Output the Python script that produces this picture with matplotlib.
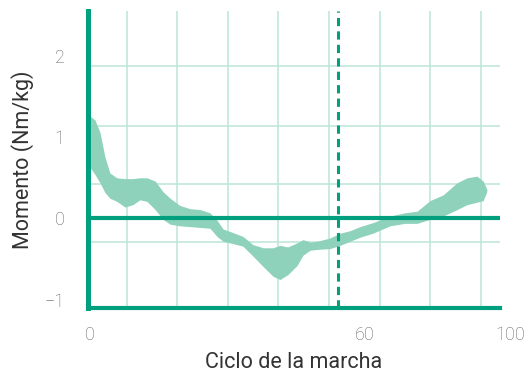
import matplotlib.pyplot as plt
import matplotlib.transforms as mtransforms

# gait cycle (%) and band limits (Nm/kg)
cycle = [0.0, 1.7, 2.9, 4.1, 5.3, 7.0, 9.0, 10.9, 12.6, 14.3, 16.3, 18.2, 19.9,
         22.3, 24.8, 27.2, 29.6, 31.3, 32.8, 34.5, 37.6, 40.0, 42.5, 44.9, 46.6,
         48.5, 50.7, 52.2, 53.9, 55.6, 58.7, 61.2, 63.6, 66.0, 69.2, 73.3, 76.9,
         79.9, 83.0, 86.2, 89.6, 92.0, 94.4, 95.9, 96.8]
upper = [1.28, 1.21, 1.06, 0.76, 0.56, 0.50, 0.49, 0.49, 0.50, 0.50, 0.46, 0.33,
         0.25, 0.16, 0.12, 0.11, 0.07, -0.02, -0.13, -0.16, -0.22, -0.32, -0.36,
         -0.36, -0.33, -0.35, -0.30, -0.26, -0.29, -0.28, -0.24, -0.18, -0.15,
         -0.10, -0.05, 0.03, 0.07, 0.09, 0.22, 0.29, 0.44, 0.50, 0.52, 0.46, 0.36]
lower = [0.66, 0.54, 0.44, 0.32, 0.25, 0.21, 0.14, 0.17, 0.23, 0.21, 0.11, -0.01,
         -0.07, -0.09, -0.10, -0.11, -0.12, -0.22, -0.28, -0.30, -0.34, -0.46,
         -0.59, -0.71, -0.75, -0.69, -0.58, -0.45, -0.39, -0.38, -0.37, -0.33,
         -0.28, -0.23, -0.18, -0.09, -0.06, -0.06, -0.01, 0.03, 0.11, 0.17, 0.20,
         0.22, 0.33]

toe_off = 60.7
grid_x = [9.5, 21.7, 34.0, 46.2, 58.5, 70.8, 83.0, 95.3]
grid_y = [1.88, 1.14, 0.42, -0.29]
xticks = [0, 60, 100]
xtick_shift = [2, 30, 10]  # px offsets seen in the reference
yticks = [-1, 0, 1, 2]

DARK = "#00a07f"
BAND = "#8ed2bb"
GRID = "#bce6d8"

plt.rcParams["font.family"] = ["Roboto", "DejaVu Sans"]

fig = plt.figure(figsize=(5.25, 3.81), dpi=100)
ax = fig.add_axes([88 / 525, 73 / 381, 412 / 525, 297 / 381])
ax.set_xlim(0, 100)
ax.set_ylim(-1.1, 2.55)

for gx in grid_x:
    ax.axvline(gx, color=GRID, lw=1.1, zorder=1)
for gy in grid_y:
    ax.axhline(gy, color=GRID, lw=1.1, zorder=1)

ax.fill_between(cycle, lower, upper, color=BAND, lw=0, zorder=2)

ax.axhline(0, color=DARK, lw=3.0, zorder=3)
ax.axvline(toe_off, color=DARK, lw=2.2, dashes=(2.7, 1.7), zorder=3)

for side in ("top", "right"):
    ax.spines[side].set_visible(False)
ax.spines["left"].set_color(DARK)
ax.spines["left"].set_linewidth(3.6)
ax.spines["bottom"].set_color(DARK)
ax.spines["bottom"].set_linewidth(3.0)

ax.set_xticks(xticks)
ax.set_xticklabels([str(t) for t in xticks])
ax.set_yticks(yticks)
ax.set_yticklabels(["\u22121", "0", "1", "2"])
ax.tick_params(length=0, labelsize=13, labelcolor="#666666")
ax.tick_params(axis="x", pad=13)
ax.tick_params(axis="y", pad=17)
for lab in ax.get_xticklabels() + ax.get_yticklabels():
    lab.set_fontweight("light")
for lab, dx in zip(ax.get_xticklabels(), xtick_shift):
    lab.set_transform(lab.get_transform() +
                      mtransforms.ScaledTranslation(dx / 100, 0, fig.dpi_scale_trans))

ax.set_xlabel("Ciclo de la marcha", fontsize=15.5, color="#333333", labelpad=6)
ax.set_ylabel("Momento (Nm/kg)", fontsize=15.5, color="#333333", labelpad=7)

fig.savefig("out.png", dpi=100)
